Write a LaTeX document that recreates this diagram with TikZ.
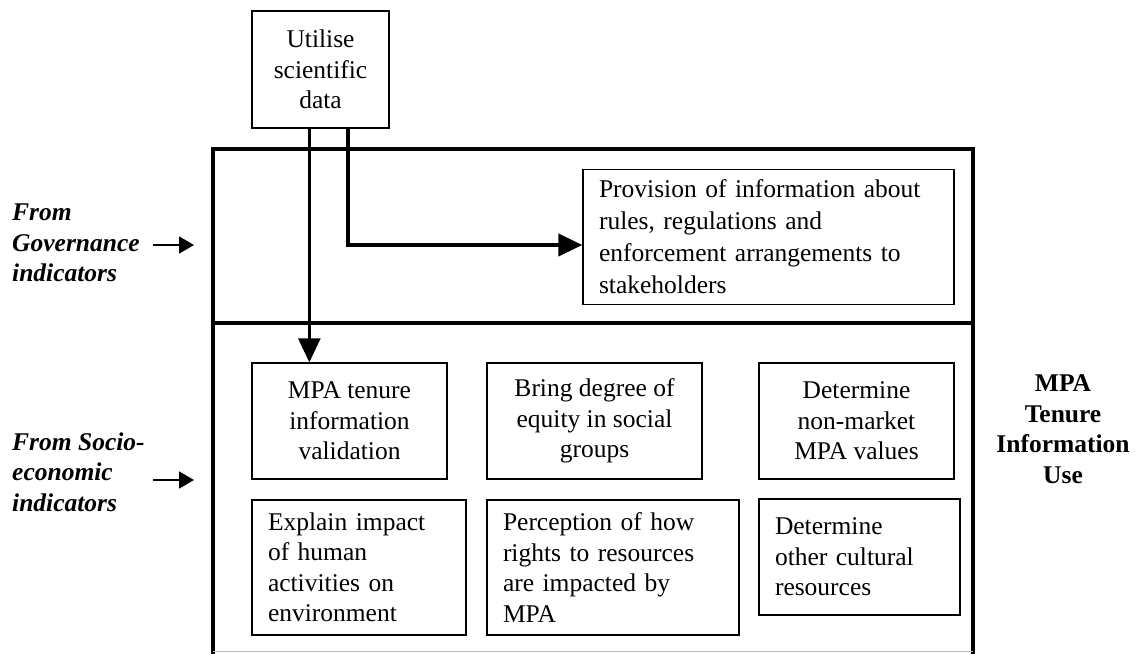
\documentclass[tikz,border=0pt]{standalone}
\usepackage{fontspec}
\setmainfont{Liberation Serif}
\usetikzlibrary{arrows.meta}

\newcommand\diagfont{\fontsize{25.5}{30.5}\selectfont}
\newcommand\wideleading{\fontsize{25.5}{32}\selectfont}

\tikzset{
  box/.style={draw, line width=1.3pt, inner sep=0pt, font=\diagfont},
  ctrbox/.style={box, align=center},
  leftbox/.style={box, align=left, inner xsep=16pt},
  frame/.style={line width=4pt},
  bigarrow/.style={-{Triangle[length=24pt,width=22pt]}},
  smallarrow/.style={line width=1.8pt, -{Triangle[length=15pt,width=17pt]}},
  sidelabel/.style={font=\diagfont\bfseries\itshape, align=left, anchor=west, inner sep=0pt},
}

\begin{document}
\begin{tikzpicture}[x=1pt,y=-1pt]
  \useasboundingbox[fill=white] (0,0) rectangle (1139,653);

  % outer panel, split into a governance part and a socio-economic part
  \draw[frame] (213,656) -- (213,149) -- (973,149) -- (973,656);
  \draw[frame] (213,323) -- (973,323);
  \draw[gray!55, line width=1pt] (213,651.5) -- (973,651.5);

  % source box above the panel
  \node[ctrbox, minimum width=137pt, minimum height=117pt] (util) at (320.5,69.5)
    {Utilise\\scientific\\data};

  % governance use
  \node[leftbox, font=\wideleading, text width=339pt, minimum height=135pt] (prov) at (768.5,237)
    {Provision of information about\\rules, regulations and\\enforcement arrangements to\\stakeholders};

  % socio-economic uses, upper row
  \node[ctrbox, minimum width=195pt, minimum height=116pt] (mpa) at (349.5,421)
    {MPA tenure\\information\\validation};
  \node[ctrbox, minimum width=215pt, minimum height=116pt] (bring) at (594.5,421)
    {Bring degree of\\equity in social\\groups};
  \node[ctrbox, minimum width=195pt, minimum height=116pt] (detval) at (856.5,421)
    {Determine\\non-market\\MPA values};

  % socio-economic uses, lower row
  \node[leftbox, text width=182pt, minimum height=135pt] (expl) at (359,567.5)
    {Explain impact\\of human\\activities on\\environment};
  \node[leftbox, text width=220pt, minimum height=135pt] (perc) at (613,567.5)
    {Perception of how\\rights to resources\\are impacted by\\MPA};
  \node[leftbox, text width=169pt, minimum height=116pt] (detcult) at (859.5,557)
    {Determine\\other cultural\\resources};

  % connectors from the data box
  \draw[bigarrow, line width=2.5pt]
    ([xshift=58pt]util.south west) -- ([xshift=58pt]util.south west |- mpa.north);
  \draw[bigarrow, line width=4pt]
    ([xshift=97pt]util.south west) |- ([yshift=-8pt]prov.west);

  % labels on the left with their arrows
  \node[sidelabel] (gov) at (12,243) {From\\Governance\\indicators};
  \coordinate (govA) at (153,245);
  \coordinate (govB) at (194,245);
  \draw[smallarrow] (govA) -- (govB);

  \node[sidelabel] (socio) at (12,472) {From Socio-\\economic\\indicators};
  \coordinate (socA) at (153,480);
  \coordinate (socB) at (194,480);
  \draw[smallarrow] (socA) -- (socB);

  % title on the right
  \node[font=\diagfont\bfseries, align=center, inner sep=0pt] (title) at (1063,429)
    {MPA\\Tenure\\Information\\Use};
\end{tikzpicture}
\end{document}
